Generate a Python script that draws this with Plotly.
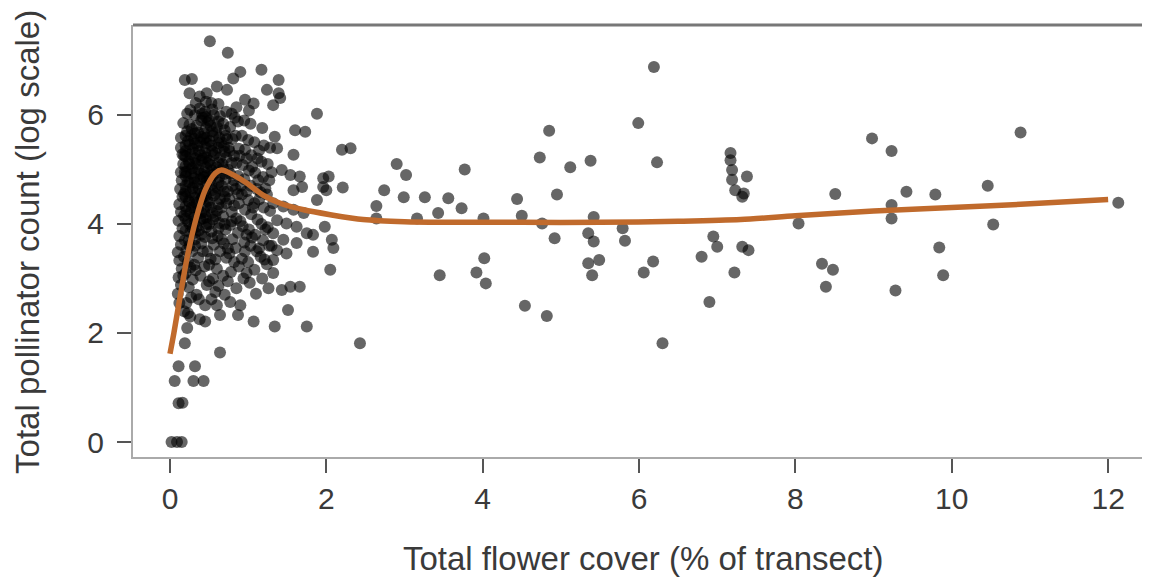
import plotly.graph_objects as go

# ---- data -----------------------------------------------------------------
# dense cluster of observations (flower cover %, log pollinator count)
dense_obs = [
    (0.02, 0.0), (0.09, 0.0), (0.15, 0.0),
    (0.11, 0.71), (0.16, 0.72),
    (0.06, 1.12), (0.30, 1.12), (0.43, 1.12),
    (0.11, 1.39), (0.32, 1.39), (0.64, 1.64),
    (0.19, 1.81), (0.22, 2.09), (0.23, 2.36),
    (0.12, 2.55), (0.10, 2.72), (0.14, 2.88), (0.11, 3.02), (0.15, 3.18), (0.12, 3.33),
    (0.10, 3.48), (0.14, 3.62), (0.12, 3.78), (0.16, 3.92), (0.11, 4.06), (0.14, 4.22),
    (0.12, 4.36), (0.16, 4.50), (0.13, 4.64), (0.15, 4.80), (0.14, 4.95), (0.17, 5.10),
    (0.16, 5.28),
    (0.21, 2.55), (0.24, 2.84), (0.20, 3.10), (0.23, 3.30), (0.21, 3.52), (0.24, 3.70),
    (0.20, 3.88), (0.23, 4.05), (0.21, 4.24), (0.24, 4.42), (0.20, 4.60), (0.23, 4.78),
    (0.21, 4.96), (0.24, 5.14), (0.20, 5.34), (0.23, 5.52), (0.22, 5.70), (0.17, 5.85),
    (0.19, 6.64),
    (0.34, 2.70), (0.29, 2.98), (0.31, 3.25), (0.28, 3.50), (0.32, 3.72), (0.29, 3.92),
    (0.31, 4.12), (0.28, 4.30), (0.32, 4.48), (0.29, 4.66), (0.31, 4.84), (0.28, 5.02),
    (0.32, 5.20), (0.29, 5.38), (0.31, 5.56), (0.28, 5.74), (0.26, 6.09), (0.28, 6.66),
    (0.38, 2.25), (0.37, 2.62), (0.39, 3.05), (0.36, 3.38), (0.40, 3.64), (0.37, 3.88),
    (0.39, 4.08), (0.36, 4.28), (0.40, 4.46), (0.37, 4.64), (0.39, 4.82), (0.36, 5.00),
    (0.40, 5.16), (0.37, 5.34), (0.39, 5.50), (0.36, 5.68), (0.40, 5.90), (0.38, 6.12),
    (0.38, 6.34),
    (0.45, 2.51), (0.45, 2.21), (0.47, 2.88), (0.44, 3.22), (0.48, 3.50), (0.45, 3.76),
    (0.47, 4.00), (0.44, 4.22), (0.48, 4.42), (0.45, 4.60), (0.47, 4.78), (0.44, 4.96),
    (0.48, 5.12), (0.45, 5.30), (0.47, 5.48), (0.44, 5.66), (0.48, 5.86), (0.45, 6.06),
    (0.47, 6.40),
    (0.53, 2.62), (0.55, 3.00), (0.52, 3.36), (0.56, 3.62), (0.53, 3.86), (0.55, 4.08),
    (0.52, 4.30), (0.56, 4.52), (0.53, 4.72), (0.55, 4.90), (0.52, 5.08), (0.56, 5.26),
    (0.53, 5.44), (0.55, 5.62), (0.52, 5.80), (0.56, 6.00), (0.53, 6.22), (0.51, 7.35),
    (0.60, 2.51), (0.64, 2.33), (0.62, 2.86), (0.60, 3.18), (0.64, 3.50), (0.61, 3.78),
    (0.63, 4.02), (0.60, 4.24), (0.64, 4.46), (0.61, 4.66), (0.63, 4.86), (0.60, 5.04),
    (0.64, 5.22), (0.61, 5.40), (0.63, 5.58), (0.60, 5.78), (0.64, 5.98), (0.62, 6.20),
    (0.60, 6.52),
    (0.70, 2.70), (0.68, 3.05), (0.72, 3.38), (0.69, 3.64), (0.71, 3.90), (0.68, 4.14),
    (0.72, 4.38), (0.69, 4.60), (0.71, 4.82), (0.68, 5.02), (0.72, 5.22), (0.69, 5.42),
    (0.71, 5.62), (0.68, 5.84), (0.72, 6.06), (0.73, 6.46), (0.74, 7.14),
    (0.77, 2.57), (0.78, 3.12), (0.76, 3.46), (0.80, 3.72), (0.77, 3.98), (0.79, 4.22),
    (0.76, 4.46), (0.80, 4.70), (0.77, 4.92), (0.79, 5.12), (0.76, 5.34), (0.80, 5.56),
    (0.77, 5.78), (0.79, 6.02), (0.81, 6.67),
    (0.87, 2.33), (0.85, 2.82), (0.88, 3.22), (0.84, 3.56), (0.87, 3.84), (0.85, 4.10),
    (0.88, 4.38), (0.84, 4.64), (0.87, 4.88), (0.85, 5.12), (0.88, 5.38), (0.84, 5.62),
    (0.87, 5.88), (0.85, 6.14),
    (0.90, 2.51), (0.94, 3.00), (0.92, 3.36), (0.95, 3.66), (0.93, 3.96), (0.96, 4.26),
    (0.92, 4.54), (0.95, 4.82), (0.93, 5.08), (0.96, 5.36), (0.92, 5.62), (0.95, 5.90),
    (0.96, 6.28), (0.90, 6.79),
    (1.02, 2.92), (1.00, 3.30), (1.03, 3.60), (1.01, 3.90), (1.04, 4.18), (1.00, 4.44),
    (1.03, 4.70), (1.01, 4.98), (1.04, 5.26), (1.00, 5.54), (1.03, 5.84), (1.01, 6.08),
    (1.07, 2.21), (1.10, 2.72), (1.08, 3.16), (1.11, 3.50), (1.09, 3.80), (1.12, 4.08),
    (1.08, 4.38), (1.11, 4.64), (1.09, 4.94), (1.12, 5.20), (1.08, 5.50), (1.07, 6.21),
    (1.18, 3.00), (1.16, 3.40), (1.19, 3.70), (1.17, 4.00), (1.20, 4.30), (1.16, 4.58),
    (1.19, 4.86), (1.17, 5.14), (1.20, 5.44), (1.18, 5.76), (1.17, 6.83),
    (1.26, 2.82), (1.24, 3.26), (1.27, 3.60), (1.25, 3.94), (1.28, 4.24), (1.24, 4.54),
    (1.27, 4.80), (1.25, 5.10), (1.28, 5.40), (1.24, 6.46),
    (0.18, 4.15), (0.18, 4.55), (0.19, 4.95), (0.18, 5.25),
    (0.26, 3.85), (0.26, 4.20), (0.26, 4.58), (0.27, 4.92), (0.26, 5.28), (0.27, 5.62),
    (0.34, 3.95), (0.34, 4.38), (0.35, 4.74), (0.34, 5.10), (0.35, 5.44), (0.34, 5.80),
    (0.42, 4.10), (0.42, 4.50), (0.43, 4.86), (0.42, 5.20), (0.43, 5.56), (0.42, 5.95),
    (0.50, 4.00), (0.50, 4.40), (0.51, 4.80), (0.50, 5.16), (0.51, 5.52), (0.50, 5.90),
    (0.58, 4.14), (0.58, 4.56), (0.59, 4.94), (0.58, 5.30), (0.59, 5.68),
    (0.66, 4.30), (0.66, 4.70), (0.67, 5.10), (0.66, 5.50),
    (0.74, 4.60), (0.74, 5.00), (0.75, 5.40),
    (1.39, 6.64), (1.39, 6.40), (1.32, 6.18), (1.41, 6.31), (1.88, 6.02), (1.60, 5.72),
    (1.73, 5.69), (1.34, 5.60), (1.37, 5.39), (1.58, 5.27), (1.43, 4.99), (1.54, 4.90),
    (1.66, 4.87), (1.96, 4.84), (2.03, 4.87), (2.21, 4.67), (1.96, 4.68), (2.00, 4.62),
    (1.58, 4.62), (1.69, 4.68), (1.88, 4.44), (1.32, 4.38), (1.45, 4.32), (1.58, 4.26),
    (1.71, 4.20), (1.37, 4.07), (1.49, 4.01), (1.62, 3.95), (1.75, 3.83), (1.83, 3.80),
    (1.32, 3.83), (1.45, 3.71), (1.62, 3.65), (1.37, 3.52), (1.49, 3.46), (1.32, 3.34),
    (1.98, 3.95), (2.07, 3.71), (2.09, 3.56), (1.83, 3.49), (2.05, 3.16), (1.32, 3.10),
    (1.43, 2.79), (1.54, 2.85), (1.66, 2.85), (1.51, 2.42), (1.34, 2.12), (1.75, 2.12),
]

# extra observations filling the darkest part of the cloud
core_obs = [
    (0.14, 5.40), (0.14, 5.58),
    (0.20, 4.10), (0.20, 4.32), (0.20, 4.50), (0.20, 4.70), (0.20, 4.88), (0.20, 5.06),
    (0.20, 5.24), (0.20, 5.44), (0.20, 5.62), (0.22, 6.02),
    (0.25, 3.60), (0.25, 4.00), (0.25, 4.40), (0.25, 4.76), (0.25, 5.10), (0.25, 5.46),
    (0.25, 5.82), (0.25, 6.40),
    (0.32, 3.60), (0.32, 3.84), (0.32, 4.02), (0.32, 4.22), (0.32, 4.40), (0.32, 4.58),
    (0.32, 4.76), (0.32, 4.94), (0.32, 5.12), (0.32, 5.30), (0.32, 5.48), (0.32, 5.66),
    (0.32, 6.00), (0.33, 6.22),
    (0.40, 3.80), (0.40, 4.20), (0.40, 4.56), (0.40, 4.92), (0.40, 5.26), (0.40, 5.60),
    (0.41, 6.02),
    (0.46, 3.94), (0.46, 4.12), (0.46, 4.32), (0.46, 4.52), (0.46, 4.70), (0.46, 4.88),
    (0.46, 5.04), (0.46, 5.22), (0.46, 5.40), (0.46, 5.58), (0.46, 5.76), (0.46, 5.96),
    (0.46, 6.24),
    (0.54, 3.74), (0.54, 4.20), (0.54, 4.62), (0.54, 4.98), (0.54, 5.34), (0.54, 5.70),
    (0.54, 6.10),
    (0.62, 3.92), (0.62, 4.36), (0.62, 4.76), (0.62, 5.12), (0.62, 5.48), (0.62, 5.88),
    (0.70, 4.00), (0.70, 4.50), (0.70, 4.92), (0.70, 5.32), (0.70, 5.72),
    (0.82, 4.34), (0.82, 4.80), (0.82, 5.25),
    (0.98, 3.80), (0.98, 4.60), (0.98, 5.20),
    (1.14, 3.55), (1.14, 4.45),
    (0.18, 2.40), (0.26, 2.30), (0.17, 3.05), (0.26, 3.20), (0.18, 3.40), (0.33, 3.15),
    (0.19, 3.70), (0.27, 2.65),
    (0.74, 3.55), (0.82, 3.30), (0.90, 4.05), (0.98, 3.10), (1.05, 3.75), (1.13, 4.80),
    (1.22, 3.90), (0.74, 2.95), (0.83, 5.95), (0.91, 4.70), (1.05, 5.05), (1.14, 5.35),
    (1.22, 4.65), (1.30, 4.95), (1.30, 3.60), (0.66, 3.72), (0.58, 3.35), (0.50, 3.25),
    (0.42, 3.50), (0.58, 2.75), (0.50, 2.95), (0.87, 4.55), (0.79, 4.05), (0.73, 5.56),
    (0.89, 5.25), (1.06, 4.30), (1.21, 3.35), (0.96, 3.50),
]

# scattered observations at larger flower cover
sparse_obs = [
    (2.20, 5.36), (2.31, 5.39), (2.43, 1.81), (2.90, 5.10), (3.02, 4.90), (2.74, 4.62),
    (2.64, 4.33), (2.64, 4.10), (2.99, 4.49), (3.16, 4.10), (3.26, 4.49), (3.56, 4.47),
    (3.43, 4.20), (3.73, 4.29), (3.77, 5.00), (4.01, 4.10), (4.02, 3.37), (3.92, 3.11),
    (4.04, 2.91), (3.45, 3.06), (4.44, 4.46), (4.50, 4.15), (4.73, 5.22), (4.85, 5.71),
    (4.95, 4.54), (5.12, 5.04), (5.38, 5.16), (4.76, 4.01), (4.92, 3.74), (4.54, 2.50),
    (4.82, 2.31), (5.42, 4.13), (5.35, 3.83), (5.42, 3.68), (5.35, 3.28), (5.49, 3.34),
    (5.40, 3.06), (5.79, 3.92), (5.82, 3.69), (5.99, 5.85), (6.23, 5.13), (6.19, 6.88),
    (6.18, 3.31), (6.06, 3.11), (6.30, 1.81), (7.17, 5.30), (7.17, 5.17), (7.19, 4.99),
    (7.19, 4.81), (7.23, 4.62), (7.32, 4.50), (7.38, 4.87), (7.34, 4.56), (6.95, 3.77),
    (7.00, 3.58), (6.80, 3.40), (7.32, 3.58), (7.40, 3.52), (7.22, 3.11), (6.90, 2.57),
    (8.98, 5.57), (9.23, 5.34), (10.88, 5.68), (8.51, 4.55), (8.04, 4.01), (9.23, 4.35),
    (9.23, 4.10), (9.42, 4.59), (9.79, 4.54), (10.46, 4.70), (10.53, 3.99), (12.13, 4.39),
    (8.34, 3.27), (8.48, 3.16), (8.39, 2.85), (9.28, 2.78), (9.84, 3.57), (9.89, 3.06),
]

# fitted smooth curve
curve_x = [0.0, 0.05, 0.13, 0.23, 0.34, 0.45, 0.58, 0.66, 0.81, 0.98, 1.19, 1.41,
           1.71, 2.05, 2.47, 3.0, 3.5, 4.5, 5.5, 6.5, 7.3, 8.0, 9.0, 10.0, 11.0, 12.0]
curve_y = [1.62, 2.0, 2.67, 3.46, 4.13, 4.62, 4.93, 4.99, 4.90, 4.75, 4.53, 4.38,
           4.26, 4.17, 4.08, 4.04, 4.03, 4.03, 4.03, 4.05, 4.08, 4.15, 4.24, 4.30,
           4.37, 4.45]

x_ticks = [0, 2, 4, 6, 8, 10, 12]
y_ticks = [0, 2, 4, 6]

x_title = "Total flower cover (% of transect)"
y_title = "Total pollinator count (log scale)"

# ---- figure ------------------------------------------------------------------
obs = dense_obs + core_obs + sparse_obs
FONT = "Liberation Sans, Arial, Helvetica, sans-serif"
TXT = "#3a3a3a"

fig = go.Figure()
fig.add_trace(go.Scatter(
    x=[p[0] for p in obs], y=[p[1] for p in obs], mode="markers",
    marker=dict(size=12, color="rgba(0,0,0,0.6)", line=dict(width=0)),
    hoverinfo="skip", showlegend=False))
fig.add_trace(go.Scatter(
    x=curve_x, y=curve_y, mode="lines",
    line=dict(color="#c06a2c", width=5.5, shape="spline", smoothing=0.8),
    hoverinfo="skip", showlegend=False))

# page body has an 8px margin, so the figure is sized to fit the 1150x578 window
fig.update_layout(
    width=1142, height=570,
    margin=dict(l=125, r=2, t=17, b=121),
    paper_bgcolor="white", plot_bgcolor="white",
    font=dict(family=FONT, size=30, color=TXT),
    xaxis=dict(range=[-0.473, 12.51], tickvals=x_ticks, ticks="outside", ticklen=14,
               tickwidth=1.5, tickcolor="#555", showgrid=False, zeroline=False,
               showline=True, linecolor="#aaaaaa", linewidth=2,
               tickfont=dict(size=30, color=TXT)),
    yaxis=dict(range=[-0.275, 7.65], tickvals=y_ticks, ticks="outside", ticklen=14,
               tickwidth=1.5, tickcolor="#555", showgrid=False, zeroline=False,
               showline=True, linecolor="#aaaaaa", linewidth=2, ticklabelstandoff=7,
               tickfont=dict(size=30, color=TXT)),
    shapes=[dict(type="line", xref="paper", yref="paper", x0=0, x1=1, y0=1, y1=1,
                 line=dict(color="#777777", width=3))],
    annotations=[
        dict(text=x_title, xref="paper", yref="paper", x=0.503, y=-0.234,
             xanchor="center", yanchor="middle", showarrow=False,
             font=dict(size=33, color=TXT)),
        dict(text=y_title, xref="paper", yref="paper", x=-0.1034, y=0.498,
             xanchor="center", yanchor="middle", showarrow=False, textangle=-90,
             font=dict(size=33, color=TXT)),
    ],
)

fig.write_html("out.html")
